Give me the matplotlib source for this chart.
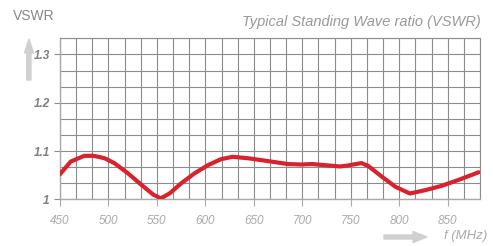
import matplotlib.pyplot as plt
from matplotlib.ticker import MultipleLocator

# values
freq = [450, 461, 475, 485, 496, 506, 520, 534, 546, 554, 563, 575, 589,
        603, 616, 628, 644, 665, 685, 699, 710, 727, 739, 747, 761, 768,
        782, 796, 811, 827, 844, 861, 882]
vswr = [1.052, 1.078, 1.090, 1.090, 1.085, 1.075, 1.054, 1.030, 1.010, 1.002,
        1.012, 1.033, 1.054, 1.071, 1.083, 1.088, 1.085, 1.079, 1.073, 1.072,
        1.073, 1.070, 1.068, 1.070, 1.075, 1.069, 1.047, 1.026, 1.012, 1.019,
        1.028, 1.040, 1.056]
x_ticks = [450, 500, 550, 600, 650, 700, 750, 800, 850]
y_ticks = [1.0, 1.1, 1.2, 1.3]
y_labels = ['1', '1.1', '1.2', '1.3']

font = ['Liberation Sans', 'DejaVu Sans']
grid_c = '#8c8c8c'

fig = plt.figure(figsize=(4.93, 2.46), dpi=100)
ax = fig.add_axes([60 / 493, 1 - 199.3 / 246, 420 / 493, 161 / 246])

ax.plot(freq, vswr, color='#d8222c', lw=3.0, solid_capstyle='round',
        solid_joinstyle='round', zorder=3)

ax.set_xlim(450, 450 + 26 * 50 / 3)
ax.set_ylim(1.0, 1.0 + 10 * 0.1 / 3)
ax.xaxis.set_minor_locator(MultipleLocator(50 / 3))
ax.yaxis.set_minor_locator(MultipleLocator(0.1 / 3))
ax.set_xticks(x_ticks)
ax.set_xticklabels([str(t) for t in x_ticks], family=font, style='italic',
                   fontsize=8.5, color='#aaaaaa')
ax.set_yticks(y_ticks)
ax.set_yticklabels(y_labels, family=font, style='italic', weight='bold',
                   fontsize=8.5, color='#808080')
ax.grid(True, which='both', color=grid_c, lw=0.8)
ax.tick_params(axis='x', which='major', length=5, color='#aaaaaa', pad=6)
ax.tick_params(axis='y', which='major', length=4.5, color=grid_c, pad=3)
ax.tick_params(which='minor', length=0)
for side in ['top', 'right']:
    ax.spines[side].set_color(grid_c)
    ax.spines[side].set_linewidth(0.8)
for side in ['left', 'bottom']:
    ax.spines[side].set_color('#aaaaaa')
    ax.spines[side].set_linewidth(1.0)

fig.text(34 / 493, 1 - 16 / 246, 'VSWR', ha='center', va='center',
         fontsize=10, color='#888888', family=font)
fig.text(481 / 493, 1 - 22 / 246, 'Typical Standing Wave ratio (VSWR)',
         ha='right', va='center', fontsize=10.5, color='#999999',
         style='italic', family=font)
fig.text(487 / 493, 1 - 236 / 246, 'f (MHz)', ha='right', va='center',
         fontsize=9.5, color='#aaaaaa', style='italic', family=font)

# arrows drawn in pixel coords measured from the top-left corner
arrows = [
    [[26.8, 80], [31, 80], [31, 53], [33.5, 53], [29, 39], [24.5, 53], [26.8, 53]],
    [[384, 235], [413, 235], [413, 231.5], [427, 237], [413, 242.5], [413, 239],
     [384, 239]],
]
for pts in arrows:
    pts = [[x, 246 - y] for x, y in pts]
    fig.patches.append(plt.Polygon(pts, closed=True, transform=None,
                                   color='#d0d0d0'))

fig.savefig('out.png', dpi=100)
